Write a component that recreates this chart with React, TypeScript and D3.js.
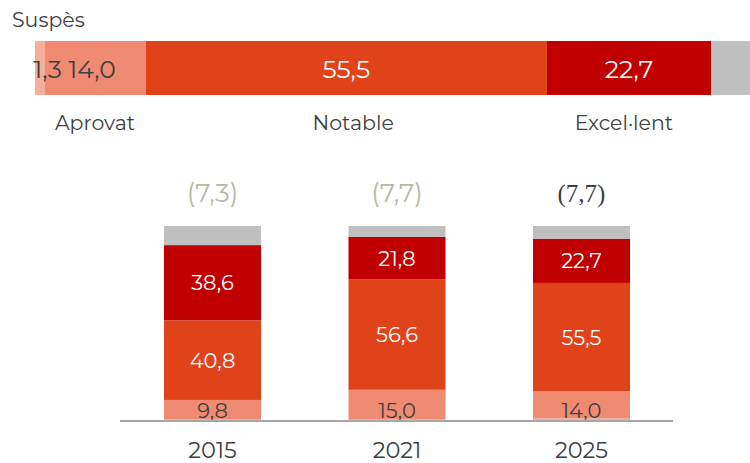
import React from "react";
import * as d3 from "d3";

const categories = ["Suspès", "Aprovat", "Notable", "Excel·lent", "Resta"];
const topValues = [1.3, 14.0, 55.5, 22.7, 6.5];
const topLabels = ["1,3", "14,0", "55,5", "22,7", ""];

const years = ["2015", "2021", "2025"];
const suspes = [1.0, 1.0, 1.3];
const aprovat = [9.8, 15.0, 14.0];
const notable = [40.8, 56.6, 55.5];
const excellent = [38.6, 21.8, 22.7];
const resta = [9.8, 5.6, 6.5];
const aprovatLabels = ["9,8", "15,0", "14,0"];
const notableLabels = ["40,8", "56,6", "55,5"];
const excellentLabels = ["38,6", "21,8", "22,7"];
const topNotes = ["(7,3)", "(7,7)", "(7,7)"];

const colors = ["#f4af9b", "#f08b73", "#e04219", "#c00000", "#bfbfbf"];
const FONT = "Montserrat, 'Noto Sans', 'Open Sans', sans-serif";
const DARK = "#404040";

export default function App() {
  // top horizontal bar
  const x = d3.scaleLinear().domain([0, 100]).range([35, 758]);
  let acc = 0;
  const topSegs = topValues.map((v, i) => {
    const s = { x0: acc, x1: acc + v, i };
    acc += v;
    return s;
  });

  // bottom stacked bars
  const keys = ["s", "a", "n", "e", "r"];
  const rows = years.map((yr, i) => ({
    year: yr,
    s: suspes[i],
    a: aprovat[i],
    n: notable[i],
    e: excellent[i],
    r: resta[i],
  }));
  const stack = d3.stack<any>().keys(keys)(rows);
  const y = d3.scaleLinear().domain([0, 100]).range([421, 226]);
  const xp = d3.scalePoint<string>().domain(years).range([212.5, 581.5]);
  const bw = 97;

  const labelSets = [null, aprovatLabels, notableLabels, excellentLabels, null];
  const labelColors = [DARK, DARK, "#ffffff", "#ffffff", DARK];

  return (
    <div style={{ position: "fixed", left: 0, top: 0 }}>
      <svg width={750} height={463} style={{ display: "block" }} fontFamily={FONT}>
        <rect width={750} height={463} fill="#ffffff" />
        {/* top bar */}
        <text x={12} y={27} fontSize={20.5} fill={DARK}>
          Suspès
        </text>
        {topSegs.map((s) => (
          <rect
            key={s.i}
            x={x(s.x0)}
            y={41}
            width={x(s.x1) - x(s.x0)}
            height={54}
            fill={colors[s.i]}
          />
        ))}
        {topSegs.map((s) =>
          topLabels[s.i] ? (
            <text
              key={"l" + s.i}
              x={s.i === 0 ? x(s.x0) + 12.5 : s.i === 1 ? (x(s.x0) + x(s.x1)) / 2 - 3 : (x(s.x0) + x(s.x1)) / 2}
              y={78}
              textAnchor="middle"
              fontSize={25}
              fill={s.i >= 2 ? "#ffffff" : DARK}
            >
              {topLabels[s.i]}
            </text>
          ) : null
        )}
        {topSegs.slice(1, 4).map((s) => (
          <text
            key={"c" + s.i}
            x={(x(s.x0) + x(s.x1)) / 2 + (s.i === 2 ? 7 : s.i === 3 ? -5 : 0)}
            y={130}
            textAnchor="middle"
            fontSize={20.5}
            fill={DARK}
          >
            {categories[s.i]}
          </text>
        ))}

        {/* bottom stacked bars */}
        {stack.map((layer, li) =>
          layer.map((d, di) => (
            <rect
              key={li + "-" + di}
              x={(xp(years[di]) as number) - bw / 2}
              y={y(d[1])}
              width={bw}
              height={y(d[0]) - y(d[1])}
              fill={colors[li]}
            />
          ))
        )}
        {stack.map((layer, li) =>
          labelSets[li]
            ? layer.map((d, di) => (
                <text
                  key={"t" + li + "-" + di}
                  x={xp(years[di]) as number}
                  y={li === 1 ? 418 : (y(d[0]) + y(d[1])) / 2 + 7.5}
                  textAnchor="middle"
                  fontSize={21}
                  fill={labelColors[li]}
                >
                  {(labelSets[li] as string[])[di]}
                </text>
              ))
            : null
        )}
        <line x1={120} x2={673} y1={421} y2={421} stroke="#a6a6a6" strokeWidth={2} />
        {years.map((yr) => (
          <text
            key={"y" + yr}
            x={xp(yr) as number}
            y={458}
            textAnchor="middle"
            fontSize={22.5}
            fill={DARK}
          >
            {yr}
          </text>
        ))}
        {topNotes.map((t, i) => (
          <text
            key={"n" + i}
            x={xp(years[i]) as number}
            y={202}
            textAnchor="middle"
            fontSize={i === 2 ? 25 : 26}
            fontFamily={i === 2 ? "'Liberation Serif', 'DejaVu Serif', serif" : FONT}
            fill={i === 2 ? DARK : "#b8b8a6"}
          >
            {t}
          </text>
        ))}
      </svg>
    </div>
  );
}
